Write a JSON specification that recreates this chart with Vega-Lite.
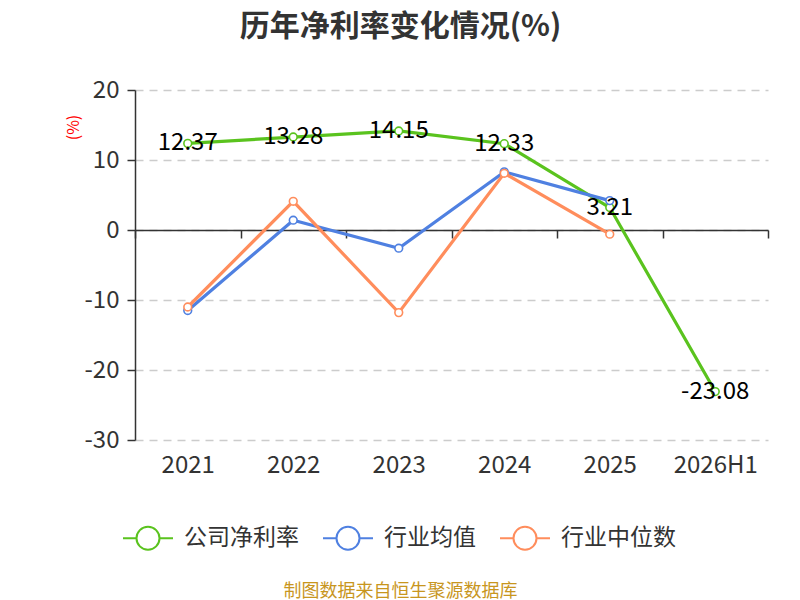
{
  "$schema": "https://vega.github.io/schema/vega-lite/v6.json",
  "width": 633,
  "height": 350,
  "autosize": {"type": "none"},
  "padding": {"left": 135, "top": 90, "right": 32, "bottom": 160},
  "background": "white",
  "config": {
    "font": "Noto Sans CJK SC",
    "view": {"stroke": null}
  },
  "title": {
    "text": "历年净利率变化情况(%)",
    "fontSize": 30,
    "fontWeight": "bold",
    "color": "#333333",
    "anchor": "middle",
    "dx": -51,
    "offset": 36
  },
  "data": {
    "values": [
      {"year": "2021", "series": "公司净利率", "value": 12.37},
      {"year": "2022", "series": "公司净利率", "value": 13.28},
      {"year": "2023", "series": "公司净利率", "value": 14.15},
      {"year": "2024", "series": "公司净利率", "value": 12.33},
      {"year": "2025", "series": "公司净利率", "value": 3.21},
      {"year": "2026H1", "series": "公司净利率", "value": -23.08},
      {"year": "2021", "series": "行业均值", "value": -11.5},
      {"year": "2022", "series": "行业均值", "value": 1.4},
      {"year": "2023", "series": "行业均值", "value": -2.6},
      {"year": "2024", "series": "行业均值", "value": 8.3},
      {"year": "2025", "series": "行业均值", "value": 4.2},
      {"year": "2021", "series": "行业中位数", "value": -11.0},
      {"year": "2022", "series": "行业中位数", "value": 4.1},
      {"year": "2023", "series": "行业中位数", "value": -11.8},
      {"year": "2024", "series": "行业中位数", "value": 8.1},
      {"year": "2025", "series": "行业中位数", "value": -0.6}
    ]
  },
  "encoding": {
    "x": {
      "field": "year",
      "type": "nominal",
      "sort": null,
      "scale": {"type": "band", "paddingInner": 0, "paddingOuter": 0},
      "axis": {
        "orient": "bottom",
        "offset": -210,
        "labelAngle": 0,
        "labelFontSize": 24,
        "labelColor": "#333333",
        "labelPadding": 215,
        "tickBand": "extent",
        "tickSize": 8,
        "tickColor": "#333333",
        "tickWidth": 1.5,
        "domainColor": "#333333",
        "domainWidth": 1.5,
        "grid": false,
        "title": "制图数据来自恒生聚源数据库",
        "titleColor": "#C8961E",
        "titleFontSize": 18,
        "titleFontWeight": "normal",
        "titleX": 265,
        "titleY": 361,
        "titleAlign": "center",
        "titleBaseline": "middle"
      }
    },
    "y": {
      "field": "value",
      "type": "quantitative",
      "scale": {"domain": [-30, 20], "nice": false, "zero": false},
      "axis": {
        "values": [-30, -20, -10, 0, 10, 20],
        "labelExpr": "'' + datum.value",
        "labelFontSize": 24,
        "labelColor": "#333333",
        "labelPadding": 8,
        "tickSize": 8,
        "tickColor": "#333333",
        "tickWidth": 1.5,
        "domainColor": "#333333",
        "domainWidth": 1.5,
        "gridColor": "#cccccc",
        "gridDash": [8, 6],
        "gridWidth": 1.5,
        "title": "(%)",
        "titleColor": "#ff0000",
        "titleFontSize": 16,
        "titleFontWeight": "normal",
        "titleAngle": -90,
        "titleX": -62,
        "titleY": 37,
        "titleAlign": "center",
        "titleBaseline": "middle"
      }
    }
  },
  "layer": [
    {
      "mark": {"type": "line", "strokeWidth": 3.2},
      "encoding": {
        "color": {
          "field": "series",
          "type": "nominal",
          "sort": ["公司净利率", "行业均值", "行业中位数"],
          "scale": {
            "domain": ["公司净利率", "行业均值", "行业中位数"],
            "range": ["#5AC31E", "#4F80E1", "#FF8D5C"]
          },
          "legend": {
            "title": null,
            "orient": "none",
            "direction": "horizontal",
            "legendX": -13,
            "legendY": 422,
            "padding": 0,
            "symbolType": "M-1,0L-0.46,0M0.46,0L1,0M0.46,0A0.46,0.46,0,1,1,-0.46,0A0.46,0.46,0,1,1,0.46,0",
            "symbolSize": 2500,
            "symbolStrokeWidth": 2,
            "symbolFillColor": "white",
            "labelFontSize": 23,
            "labelColor": "#333333",
            "labelOffset": 10,
            "columnPadding": 20
          }
        }
      }
    },
    {
      "mark": {"type": "point", "filled": true, "fill": "white", "size": 60, "strokeWidth": 1.6, "opacity": 1},
      "encoding": {
        "stroke": {"field": "series", "type": "nominal", "legend": null, "scale": {"domain": ["公司净利率", "行业均值", "行业中位数"], "range": ["#5AC31E", "#4F80E1", "#FF8D5C"]}}
      }
    },
    {
      "transform": [{"filter": "datum.series === '公司净利率'"}],
      "mark": {"type": "text", "fontSize": 24, "color": "#000000", "baseline": "middle", "align": "center"},
      "encoding": {
        "text": {"field": "value", "type": "nominal"}
      }
    }
  ]
}
